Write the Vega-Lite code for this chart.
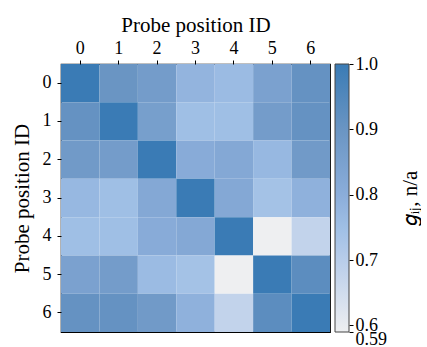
{
  "$schema": "https://vega.github.io/schema/vega-lite/v6.json",
  "autosize": {"type": "pad"},
  "padding": {"left": 10, "top": 13, "right": 0, "bottom": 0},
  "background": "white",
  "spacing": 3,
  "config": {
    "font": "Liberation Serif",
    "view": {"stroke": "black", "strokeWidth": 1.2},
    "axis": {"labelFont": "Liberation Serif", "titleFont": "Liberation Serif", "labelFontSize": 18, "titleFontSize": 21, "titleFontWeight": "normal", "labelColor": "black", "titleColor": "black", "tickColor": "black", "domain": false, "grid": false, "tickSize": 4}
  },
  "datasets": {
    "cells": [
      {"row": 0, "col": 0, "g": 1.0}, {"row": 0, "col": 1, "g": 0.9}, {"row": 0, "col": 2, "g": 0.87}, {"row": 0, "col": 3, "g": 0.78}, {"row": 0, "col": 4, "g": 0.76}, {"row": 0, "col": 5, "g": 0.85}, {"row": 0, "col": 6, "g": 0.91},
      {"row": 1, "col": 0, "g": 0.91}, {"row": 1, "col": 1, "g": 1.0}, {"row": 1, "col": 2, "g": 0.86}, {"row": 1, "col": 3, "g": 0.75}, {"row": 1, "col": 4, "g": 0.75}, {"row": 1, "col": 5, "g": 0.87}, {"row": 1, "col": 6, "g": 0.91},
      {"row": 2, "col": 0, "g": 0.88}, {"row": 2, "col": 1, "g": 0.87}, {"row": 2, "col": 2, "g": 1.0}, {"row": 2, "col": 3, "g": 0.81}, {"row": 2, "col": 4, "g": 0.82}, {"row": 2, "col": 5, "g": 0.77}, {"row": 2, "col": 6, "g": 0.88},
      {"row": 3, "col": 0, "g": 0.77}, {"row": 3, "col": 1, "g": 0.75}, {"row": 3, "col": 2, "g": 0.82}, {"row": 3, "col": 3, "g": 1.0}, {"row": 3, "col": 4, "g": 0.82}, {"row": 3, "col": 5, "g": 0.74}, {"row": 3, "col": 6, "g": 0.79},
      {"row": 4, "col": 0, "g": 0.75}, {"row": 4, "col": 1, "g": 0.75}, {"row": 4, "col": 2, "g": 0.81}, {"row": 4, "col": 3, "g": 0.82}, {"row": 4, "col": 4, "g": 1.0}, {"row": 4, "col": 5, "g": 0.59}, {"row": 4, "col": 6, "g": 0.68},
      {"row": 5, "col": 0, "g": 0.85}, {"row": 5, "col": 1, "g": 0.87}, {"row": 5, "col": 2, "g": 0.76}, {"row": 5, "col": 3, "g": 0.74}, {"row": 5, "col": 4, "g": 0.59}, {"row": 5, "col": 5, "g": 1.0}, {"row": 5, "col": 6, "g": 0.93},
      {"row": 6, "col": 0, "g": 0.91}, {"row": 6, "col": 1, "g": 0.91}, {"row": 6, "col": 2, "g": 0.88}, {"row": 6, "col": 3, "g": 0.79}, {"row": 6, "col": 4, "g": 0.68}, {"row": 6, "col": 5, "g": 0.93}, {"row": 6, "col": 6, "g": 1.0}
    ],
    "bar": [{"lo": 0.59, "hi": 1.0}]
  },
  "hconcat": [
    {
      "width": 269,
      "height": 268,
      "data": {"name": "cells"},
      "mark": {"type": "rect"},
      "encoding": {
        "x": {"field": "col", "type": "ordinal", "scale": {"paddingInner": 0, "paddingOuter": 0},
          "axis": {"orient": "top", "labelAngle": 0, "title": "Probe position ID", "titlePadding": 4, "labelPadding": 3}},
        "y": {"field": "row", "type": "ordinal", "scale": {"paddingInner": 0, "paddingOuter": 0},
          "axis": {"title": "Probe position ID", "titlePadding": 10, "labelPadding": 6}},
        "color": {"field": "g", "type": "quantitative", "legend": null,
          "scale": {"domain": [0.59, 0.7, 0.75, 0.8, 0.9, 1.0], "range": ["#eeeff1", "#b8cdea", "#9fbfe5", "#8badda", "#6a95c3", "#3a7bb5"], "interpolate": "rgb"}}
      }
    },
    {
      "width": 14,
      "height": 268,
      "view": {"stroke": null},
      "data": {"name": "bar"},
      "mark": {"type": "rect", "stroke": "#444", "strokeWidth": 1,
        "color": {"gradient": "linear", "x1": 0, "y1": 1, "x2": 0, "y2": 0, "stops": [
          {"offset": 0, "color": "#eeeff1"}, {"offset": 0.268, "color": "#b8cdea"}, {"offset": 0.39, "color": "#9fbfe5"}, {"offset": 0.512, "color": "#8badda"}, {"offset": 0.756, "color": "#6a95c3"}, {"offset": 1, "color": "#3a7bb5"}]}},
      "encoding": {
        "y": {"field": "lo", "type": "quantitative", "scale": {"domain": [0.59, 1.0], "nice": false, "zero": false},
          "axis": {"orient": "right", "values": [0.59, 0.6, 0.7, 0.8, 0.9, 1.0], "labelOverlap": false, "labelFlush": false, "labelBaseline": "middle",
            "labelOffset": {"condition": {"test": "datum.value == 0.59", "value": 7}, "value": 0},
            "labelExpr": "datum.value == 0.59 ? '0.59' : format(datum.value, '.1f')",
            "labelPadding": 2, "title": "𝑔ᵢⱼ, n/a", "titleAngle": 270, "titlePadding": 34, "titleBaseline": "bottom"}},
        "y2": {"field": "hi"}
      }
    }
  ]
}
